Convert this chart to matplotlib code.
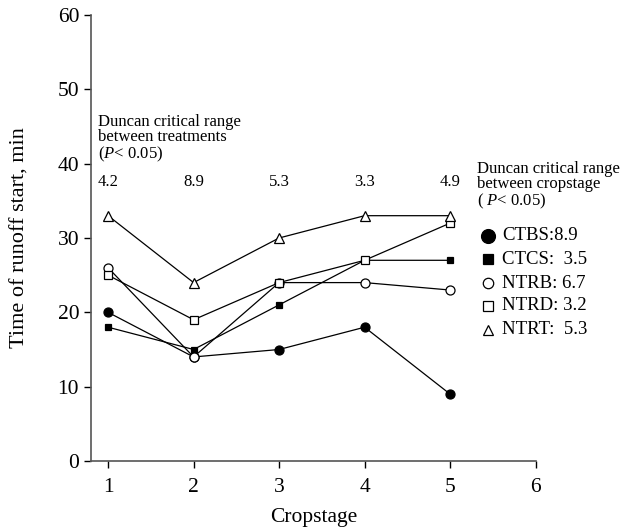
import matplotlib
matplotlib.use("Agg")
import matplotlib.pyplot as plt

plt.rcParams['font.family'] = ['Liberation Serif', 'DejaVu Serif']
plt.rcParams['mathtext.fontset'] = 'custom'
plt.rcParams['mathtext.rm'] = 'Liberation Serif'
plt.rcParams['mathtext.it'] = 'Liberation Serif:italic'

stages = [1, 2, 3, 4, 5]
ctbs = [20, 14, 15, 18, 9]
ctcs = [18, 15, 21, 27, 27]
ntrb = [26, 14, 24, 24, 23]
ntrd = [25, 19, 24, 27, 32]
ntrt = [33, 24, 30, 33, 33]
treat_range = ['4.2', '8.9', '5.3', '3.3', '4.9']
legend_labels = ['CTBS:8.9', 'CTCS:  3.5', 'NTRB: 6.7', 'NTRD: 3.2', 'NTRT:  5.3']

fig = plt.figure(figsize=(6.21, 5.31), dpi=100)
ax = fig.add_axes([0.1465, 0.1318, 0.716, 0.840])

# marker styles: (marker, face, size in plot, size in legend)
styles = [('o', 'black', 6.5, 10), ('s', 'black', 5, 7), ('o', 'white', 6.5, 7.5),
          ('s', 'white', 5.5, 6.5), ('^', 'white', 6.5, 7.5)]
series = [ctbs, ctcs, ntrb, ntrd, ntrt]
for vals, (m, fc, ms, _) in zip(series, styles):
    ax.plot(stages, vals, color='black', lw=0.9, marker=m, mfc=fc,
            mec='black', mew=0.9, ms=ms, clip_on=False)

ax.set_xlim(0.8, 6)
ax.set_ylim(0, 60)
ax.set_xticks([1, 2, 3, 4, 5, 6])
ax.set_yticks([0, 10, 20, 30, 40, 50, 60])
ax.tick_params(labelsize=15.5, direction='out', length=5, width=1, color='black')
ax.tick_params(axis='x', pad=7)
ax.spines['top'].set_visible(False)
ax.spines['right'].set_visible(False)
for s in ['left', 'bottom']:
    ax.spines[s].set_color('#555555')
    ax.spines[s].set_linewidth(1.2)
ax.set_xlabel('Cropstage', fontsize=15.5, labelpad=8)
ax.set_ylabel('Time of runoff start, min', fontsize=16, labelpad=20)

# treatment critical ranges
ax.text(0.88, 46.7, 'Duncan critical range\nbetween treatments\n($\\mathit{P}$< 0.05)',
        fontsize=12, va='top', ha='left', linespacing=0.95)
for x, t in zip(stages, treat_range):
    ax.text(x, 37.5, t, fontsize=12, ha='center', va='center')

# cropstage critical ranges legend
fig.text(0.768, 0.697, 'Duncan critical range\nbetween cropstage\n( $\\mathit{P}$< 0.05)',
         fontsize=12, va='top', ha='left', linespacing=0.95)
leg_y = [236, 259, 283, 306, 330]
for (m, fc, _, lms), yy, lab in zip(styles, leg_y, legend_labels):
    fy = 1 - yy / 531
    fig.lines.append(plt.Line2D([0.786], [fy], marker=m, mfc=fc, mec='black',
                                mew=0.9, ms=lms, transform=fig.transFigure, ls=''))
    fig.text(0.808, fy, lab, fontsize=13.5, va='center', ha='left')

fig.savefig('out.png', dpi=100)
